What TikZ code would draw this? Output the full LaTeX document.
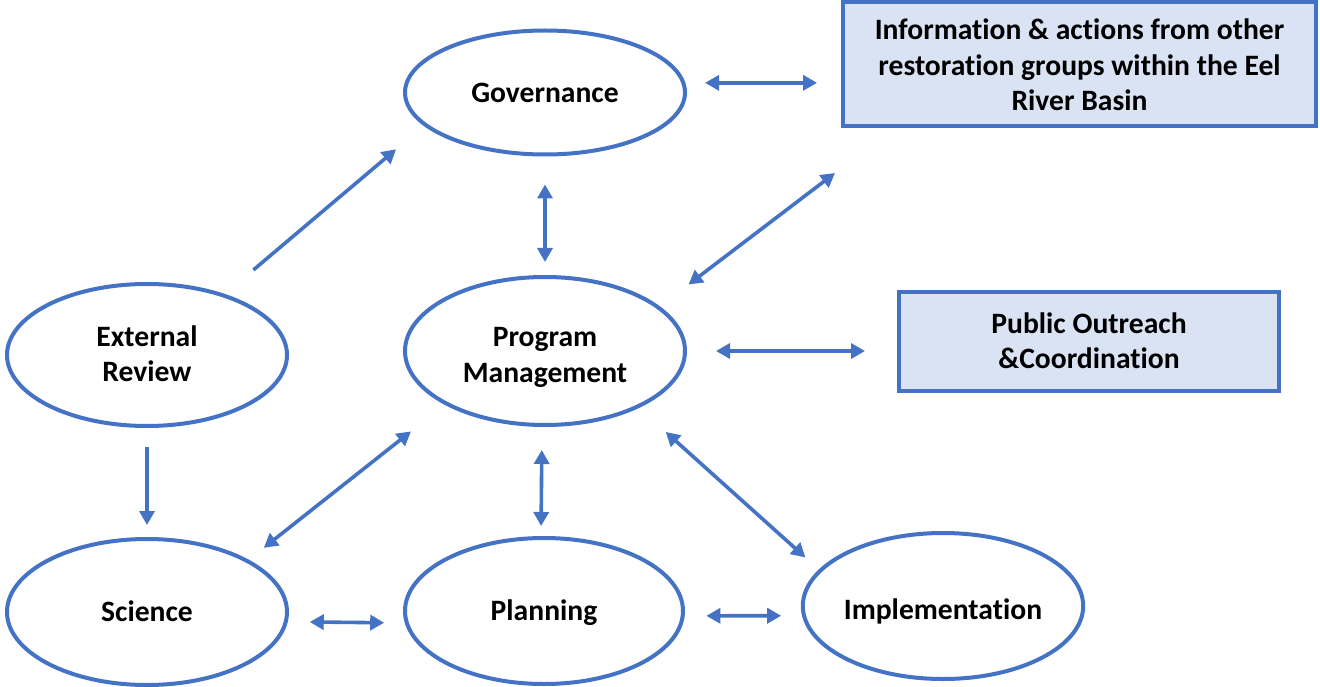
\documentclass[tikz,border=0pt]{standalone}
\usepackage{fontspec}
\setmainfont[Ligatures=NoCommon]{Carlito}
\usetikzlibrary{arrows.meta,shapes.geometric}
\definecolor{accent}{HTML}{4472C4}
\definecolor{boxfill}{HTML}{DAE3F3}
\begin{document}
\begin{tikzpicture}[x=1pt,y=-1pt,
  every node/.style={font=\fontsize{29.6}{35.5}\selectfont\bfseries},
  ell/.style={ellipse, draw=accent, line width=4pt, fill=white, inner sep=0pt, outer sep=0pt, minimum width=280pt, align=center, text depth=0pt},
  bx/.style={rectangle, draw=accent, line width=4pt, fill=boxfill, inner sep=0pt, outer sep=0pt, align=center, text depth=0pt},
  arr/.style={accent, line width=3.6pt, {Triangle[length=14pt,width=15pt]}-{Triangle[length=14pt,width=15pt]}},
  arrone/.style={accent, line width=3.6pt, -{Triangle[length=14pt,width=15pt]}}]
\useasboundingbox (0,0) rectangle (1320,687);
\node[ell, minimum height=124pt, text height=19.2pt] (gov) at (545,92.5) {Governance};
\node[ell, minimum height=142pt, text height=53.2pt] (er) at (147,355) {External\\Review};
\node[ell, minimum height=148pt, text height=62.2pt] (pm) at (545,351) {Program\\Management};
\node[ell, minimum height=146pt, text height=19.2pt] (sci) at (147,612) {Science};
\node[ell, minimum width=278pt, minimum height=146pt, text height=19.2pt] (plan) at (544,611) {Planning};
\node[ell, minimum height=146pt, text height=27.2pt] (impl) at (943,606) {Implementation};
\node[bx, minimum width=473pt, minimum height=124pt, text height=93.2pt] (info) at (1079.5,64) {Information \& actions from other\\restoration groups within the Eel\\River Basin};
\node[bx, minimum width=380pt, minimum height=99pt, text height=54.2pt] (po) at (1089,341.5) {Public Outreach\\\&Coordination};
\coordinate (free) at (835,173);

\draw[arrone, shorten <=39.5pt, shorten >=38.2pt] (er.38.35) -- (gov.195.9);
\draw[arr, shorten <=21.8pt, shorten >=26pt] (gov.4.14) -- (gov.4.14 -| info.west);
\draw[arr, shorten <=30pt, shorten >=15pt] (gov.south) -- (pm.north);
\draw[arr, shorten >=38pt] (free) -- (pm.21.5);
\draw[arr, shorten <=31pt, shorten >=34pt] (pm.0.4) -- (pm.0.4 -| po.west);
\draw[arrone, shorten <=21pt, shorten >=14pt] (er.south) -- (sci.north);
\draw[arr, shorten <=21.2pt, shorten >=45pt] (sci.27.9) -- (pm.208.5);
\draw[arr, shorten <=25pt, shorten >=12pt] ([xshift=-3pt]pm.south) -- ([xshift=-3pt]plan.north);
\draw[arr, shorten <=38pt, shorten >=20pt] (pm.-31.5) -- (impl.164.1);
\draw[arr, shorten <=24pt, shorten >=22.7pt] (sci.-4.97) -- (plan.185.5);
\draw[arr, shorten <=23.7pt, shorten >=22.9pt] (plan.-2.5) -- (impl.184.5);
\end{tikzpicture}
\end{document}
